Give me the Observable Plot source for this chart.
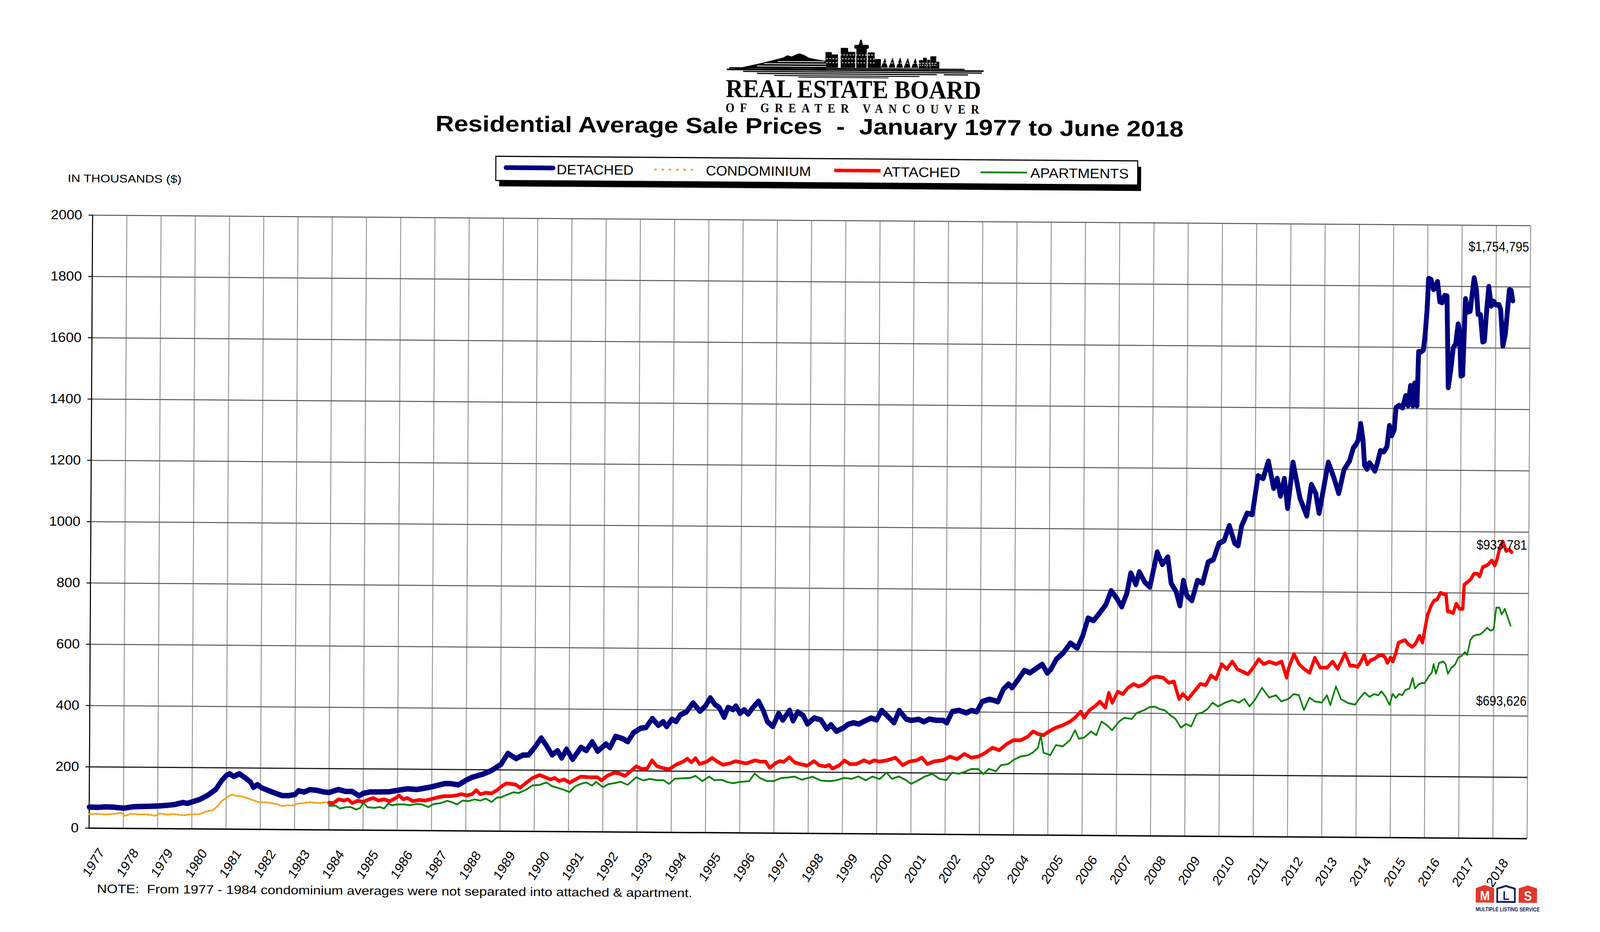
<!DOCTYPE html>
<html>
<head>
<meta charset="utf-8">
<script src="https://cdn.jsdelivr.net/npm/d3@7"></script>
<script src="https://cdn.jsdelivr.net/npm/@observablehq/plot@0.6"></script>
<style>
  html, body { margin: 0; padding: 0; background: #ffffff; overflow: hidden; }
  #viewport { position: relative; overflow: hidden; width: 4624px; height: 2387px; }
  #scaler { position: absolute; left: 0; top: 0; width: 4624px; height: 2387px; transform-origin: 0 0; }
  #wrap { position: relative; width: 4624px; height: 2387px; transform: rotate(0.37deg); transform-origin: 2340px 1349px; }
  #chart, #overlay { position: absolute; left: 0; top: 0; }
  #chart svg { max-width: none !important; }
  #overlay { pointer-events: none; }
  #overlay text { white-space: pre; }
</style>
</head>
<body>
<div id="viewport">
<div id="scaler">
<div id="wrap">
  <div id="chart"></div>
  <svg id="overlay" width="4624" height="2387" viewBox="0 0 4624 2387" xmlns="http://www.w3.org/2000/svg" font-family="'Liberation Sans', Arial, sans-serif">
    <!-- skyline logo -->
    <g fill="#000">
      <path d="M2093,181 L2140,173 L2185,164 L2230,154 L2255,148 L2268,142 L2280,145 L2292,140 L2303,137 L2316,141 L2330,148 L2352,152 L2380,156 L2380,181 Z"/>
      <rect x="2378" y="133" width="18" height="40"/>
      <rect x="2396" y="139" width="18" height="34"/>
      <rect x="2422" y="122" width="21" height="51"/>
      <rect x="2443" y="132" width="21" height="41"/>
      <rect x="2467" y="124" width="30" height="49"/>
      <rect x="2461" y="114" width="42" height="10" rx="4"/>
      <path d="M2474,114 L2478,101 L2482,101 L2486,114 Z"/>
      <rect x="2500" y="133" width="20" height="40"/>
      <rect x="2520" y="150" width="18" height="23"/>
      <path d="M2538,172 L2550,147 L2558,172 Z M2560,172 L2572,146 L2580,172 Z M2582,172 L2594,145 L2602,172 Z M2604,172 L2616,146 L2624,172 Z M2626,172 L2638,147 L2646,172 Z"/>
      <rect x="2648" y="152" width="12" height="21"/>
      <rect x="2660" y="146" width="11" height="27"/>
      <rect x="2672" y="151" width="8" height="22"/>
      <rect x="2681" y="142" width="17" height="31"/>
      <rect x="2698" y="156" width="9" height="17"/>
    </g>
    <g stroke="#fff" stroke-width="2">
      <line x1="2150" y1="176" x2="2380" y2="176"/>
      <line x1="2180" y1="170" x2="2380" y2="170"/>
      <line x1="2200" y1="164" x2="2380" y2="164"/>
      <line x1="2240" y1="158" x2="2375" y2="158"/>
      <line x1="2380" y1="150" x2="2520" y2="150" stroke-dasharray="5 4"/>
      <line x1="2380" y1="160" x2="2520" y2="160" stroke-dasharray="5 4"/>
      <line x1="2420" y1="140" x2="2520" y2="140" stroke-dasharray="5 4"/>
      <line x1="2540" y1="160" x2="2700" y2="160" stroke-dasharray="6 3"/>
      <line x1="2650" y1="165" x2="2700" y2="165" stroke-dasharray="4 3"/>
    </g>
    <g stroke="#000">
      <line x1="2093" y1="179" x2="2835" y2="179" stroke-width="4"/>
      <line x1="2100" y1="175" x2="2780" y2="175" stroke-width="3"/>
      <line x1="2140" y1="184" x2="2830" y2="184" stroke-width="3"/>
      <line x1="2180" y1="189" x2="2700" y2="189" stroke-width="3"/>
      <line x1="2720" y1="189" x2="2790" y2="189" stroke-width="3"/>
      <line x1="2230" y1="194" x2="2650" y2="194" stroke-width="2.5"/>
      <line x1="2300" y1="198" x2="2560" y2="198" stroke-width="2"/>
    </g>
    <text x="2090" y="250" font-family="'Liberation Serif', 'Times New Roman', serif" font-weight="bold" font-size="66" textLength="738" lengthAdjust="spacingAndGlyphs">REAL ESTATE BOARD</text>
    <text x="2090" y="288" font-family="'Liberation Serif', 'Times New Roman', serif" font-weight="bold" font-size="33" textLength="733" lengthAdjust="spacing">OF GREATER VANCOUVER</text>

    <!-- title -->
    <text x="1252" y="343" font-size="57" font-weight="bold" textLength="2162" lengthAdjust="spacingAndGlyphs">Residential Average Sale Prices  -  January 1977 to June 2018</text>

    <!-- legend -->
    <rect x="1437" y="421" width="1855" height="62" fill="#000"/>
    <rect x="1427" y="406" width="1855" height="62" fill="#fff" stroke="#000" stroke-width="3"/>
    <line x1="1456" y1="435" x2="1593" y2="435" stroke="#000080" stroke-width="12" stroke-linecap="round"/>
    <text x="1603" y="451" font-size="35" textLength="222" lengthAdjust="spacingAndGlyphs">DETACHED</text>
    <line x1="1885" y1="437" x2="2004" y2="437" stroke="#f4a21e" stroke-width="4.5" stroke-dasharray="7 14"/>
    <text x="2034" y="451" font-size="35" textLength="304" lengthAdjust="spacingAndGlyphs">CONDOMINIUM</text>
    <line x1="2405" y1="436" x2="2539" y2="436" stroke="#ff0000" stroke-width="9"/>
    <text x="2546" y="451" font-size="35" textLength="223" lengthAdjust="spacingAndGlyphs">ATTACHED</text>
    <line x1="2828" y1="438" x2="2962" y2="438" stroke="#008000" stroke-width="4.5"/>
    <text x="2972" y="451" font-size="35" textLength="284" lengthAdjust="spacingAndGlyphs">APARTMENTS</text>

    <!-- y axis unit -->
    <text x="190" y="480" font-size="28" textLength="329" lengthAdjust="spacingAndGlyphs">IN THOUSANDS ($)</text>

    <!-- note -->
    <text x="286" y="2300" font-size="31" textLength="1721" lengthAdjust="spacingAndGlyphs">NOTE:  From 1977 - 1984 condominium averages were not separated into attached &amp; apartment.</text>

    <!-- MLS logo -->
    <g>
      <path d="M4271,2299 L4271,2262 L4297,2254 L4324,2262 L4324,2299 Z" fill="#e2392d"/>
      <path d="M4333,2297 L4333,2263 L4358,2256 L4384,2263 L4384,2297 Z" fill="#fff" stroke="#1b2159" stroke-width="5"/>
      <path d="M4395,2299 L4395,2262 L4421,2254 L4448,2262 L4448,2299 Z" fill="#e2392d"/>
      <text x="4297.5" y="2293" font-size="34" font-weight="bold" fill="#fff" text-anchor="middle">M</text>
      <text x="4358.5" y="2292" font-size="32" font-weight="bold" fill="#1b2159" text-anchor="middle">L</text>
      <text x="4421.5" y="2293" font-size="34" font-weight="bold" fill="#fff" text-anchor="middle">S</text>
      <text x="4271" y="2321" font-size="15" font-weight="bold" fill="#1b2159" textLength="185" lengthAdjust="spacingAndGlyphs">MULTIPLE LISTING SERVICE</text>
    </g>
  </svg>
</div>
</div>
</div>
<script>
// map the 4624x2387 design onto the whole CSS viewport that gets photographed
(function () {
  const W = window.innerWidth || 4624, H = window.innerHeight || 2387;
  const sx = W / 4624, sy = H / 2387;
  const vp = document.getElementById("viewport");
  vp.style.width = W + "px";
  vp.style.height = H + "px";
  document.getElementById("scaler").style.transform = "scale(" + sx + "," + sy + ")";
})();

// ---- data: [decimal year, average price in thousands] ----
const detached = [
[1977.00,69],[1977.24,68],[1977.48,70],[1977.72,69],[1978.01,66],[1978.29,71],[1978.53,72],[1978.77,73],[1979.01,74],[1979.25,76],[1979.49,79],[1979.74,86],[1979.86,83],[1980.00,88],[1980.22,96],[1980.46,110],[1980.70,130],[1980.86,158],[1981.01,176],[1981.09,181],[1981.22,172],[1981.38,181],[1981.55,168],[1981.71,154],[1981.79,137],[1981.91,146],[1982.03,136],[1982.23,127],[1982.47,117],[1982.63,111],[1982.83,111],[1983.01,115],[1983.11,127],[1983.28,123],[1983.44,131],[1983.64,129],[1983.84,124],[1984.00,122],[1984.28,132],[1984.48,126],[1984.68,126],[1984.88,112],[1985.00,120],[1985.21,125],[1985.45,125],[1985.77,126],[1986.01,131],[1986.29,136],[1986.57,134],[1986.81,139],[1987.00,143],[1987.38,154],[1987.54,154],[1987.78,150],[1988.01,166],[1988.18,175],[1988.50,186],[1988.75,198],[1988.91,210],[1989.02,218],[1989.22,254],[1989.46,237],[1989.66,249],[1989.82,249],
[1990.00,274],[1990.19,305],[1990.35,279],[1990.51,250],[1990.67,264],[1990.79,240],[1990.93,269],[1991.11,236],[1991.35,275],[1991.51,265],[1991.68,294],[1991.84,263],[1992.08,287],[1992.20,275],[1992.36,312],[1992.56,305],[1992.72,295],[1992.88,324],[1993.09,339],[1993.25,342],[1993.43,371],[1993.61,349],[1993.75,361],[1993.85,345],[1994.00,369],[1994.13,362],[1994.25,384],[1994.42,393],[1994.62,423],[1994.82,396],[1994.98,413],[1995.12,440],[1995.26,418],[1995.38,409],[1995.53,377],[1995.64,409],[1995.79,402],[1995.87,414],[1995.99,390],[1996.11,402],[1996.23,388],[1996.35,407],[1996.53,430],[1996.67,400],[1996.79,364],[1996.95,348],[1997.12,391],[1997.24,369],[1997.44,401],[1997.54,367],[1997.68,396],[1997.84,384],[1997.96,357],[1998.16,377],[1998.36,370],[1998.53,341],[1998.65,355],[1998.81,334],[1999.01,345],
[1999.15,357],[1999.31,362],[1999.46,358],[1999.67,370],[1999.82,378],[1999.98,372],[2000.13,403],[2000.28,387],[2000.49,363],[2000.64,403],[2000.85,375],[2001.00,371],[2001.21,375],[2001.36,367],[2001.52,376],[2001.72,372],[2001.93,372],[2002.03,364],[2002.19,401],[2002.39,405],[2002.60,397],[2002.75,405],[2002.91,401],[2003.06,434],[2003.27,442],[2003.42,438],[2003.52,434],[2003.68,475],[2003.83,492],[2003.93,480],[2004.09,504],[2004.29,537],[2004.45,529],[2004.60,541],[2004.81,557],[2004.96,529],[2005.06,541],[2005.22,574],[2005.42,595],[2005.63,627],[2005.83,611],[2005.99,652],[2006.14,709],[2006.30,701],[2006.45,722],[2006.66,754],[2006.81,799],[2006.97,775],[2007.12,747],[2007.27,791],[2007.38,857],[2007.53,820],[2007.63,861],[2007.79,828],[2007.94,812],[2008.15,926],[2008.30,886],[2008.46,910],[2008.56,825],[2008.71,797],[2008.82,752],[2008.92,834],[2009.02,785],[2009.17,769],[2009.33,834],[2009.48,826],[2009.64,895],[2009.79,903],[2009.95,956],[2010.10,965],[2010.25,1014],[2010.41,957],[2010.51,949],[2010.61,1014],[2010.77,1055],[2010.92,1051],[2011.08,1177],[2011.23,1169],[2011.38,1225],[2011.54,1137],[2011.64,1169],[2011.74,1112],[2011.85,1169],[2011.95,1072],[2012.10,1222],[2012.31,1105],[2012.51,1048],[2012.64,1150],[2012.77,1121],[2012.87,1057],[2013.13,1223],[2013.29,1175],[2013.44,1122],[2013.59,1199],[2013.75,1228],[2013.86,1271],[2013.95,1284],[2014.00,1297],[2014.07,1350],[2014.14,1297],[2014.19,1215],[2014.26,1202],[2014.33,1222],[2014.42,1209],[2014.49,1196],[2014.56,1220],[2014.65,1262],[2014.75,1259],[2014.84,1275],[2014.91,1344],[2014.98,1312],[2015.05,1331],[2015.10,1403],[2015.19,1410],[2015.29,1403],[2015.38,1442],[2015.45,1410],[2015.52,1475],[2015.59,1410],[2015.64,1483],[2015.71,1410],[2015.75,1586],[2015.82,1586],[2015.89,1592],[2015.94,1645],[2015.99,1723],[2016.03,1825],[2016.10,1822],[2016.17,1790],[2016.22,1793],[2016.29,1815],[2016.36,1750],[2016.43,1747],[2016.50,1770],[2016.57,1768],[2016.62,1470],[2016.69,1527],[2016.76,1599],[2016.83,1612],[2016.90,1677],[2016.94,1658],[2016.99,1508],[2017.04,1511],[2017.11,1760],[2017.18,1717],[2017.25,1720],[2017.29,1760],[2017.36,1828],[2017.43,1788],[2017.48,1710],[2017.55,1708],[2017.62,1620],[2017.67,1623],[2017.74,1737],[2017.79,1800],[2017.86,1737],[2017.93,1752],[2018.00,1741],[2018.09,1741],[2018.14,1725],[2018.21,1607],[2018.28,1646],[2018.35,1738],[2018.39,1790],[2018.44,1788],[2018.49,1755]
];
const condominium = [
[1977.00,46],[1977.24,47],[1977.48,45],[1977.72,47],[1977.93,51],[1978.05,41],[1978.21,48],[1978.45,46],[1978.69,46],[1978.93,42],[1979.05,50],[1979.25,46],[1979.49,48],[1979.74,44],[1979.98,48],[1980.22,48],[1980.38,56],[1980.62,62],[1980.74,74],[1980.86,91],[1980.98,100],[1981.10,110],[1981.18,113],[1981.30,109],[1981.47,107],[1981.63,101],[1981.79,95],[1981.95,89],[1982.11,89],[1982.27,87],[1982.47,83],[1982.63,77],[1982.79,79],[1982.95,79],[1983.11,85],[1983.28,87],[1983.44,90],[1983.60,88],[1983.76,88],[1983.92,90]
];
const attached = [
[1984.00,89],[1984.12,87],[1984.28,100],[1984.44,96],[1984.56,100],[1984.68,88],[1984.84,96],[1985.00,92],[1985.13,99],[1985.29,105],[1985.45,97],[1985.61,101],[1985.77,95],[1985.93,104],[1986.05,114],[1986.17,102],[1986.29,106],[1986.45,96],[1986.65,100],[1986.81,98],[1987.02,104],[1987.18,109],[1987.38,113],[1987.54,113],[1987.74,116],[1987.86,120],[1988.02,116],[1988.18,120],[1988.30,133],[1988.42,120],[1988.58,125],[1988.75,123],[1988.91,134],[1989.02,145],[1989.18,156],[1989.34,154],[1989.46,152],[1989.58,142],[1989.74,157],[1989.94,174],[1990.15,184],[1990.31,177],[1990.47,170],[1990.59,175],[1990.71,165],[1990.87,170],[1991.03,160],[1991.19,170],[1991.35,180],[1991.60,178],[1991.84,178],[1991.96,168],[1992.12,183],[1992.32,193],[1992.48,191],[1992.64,183],[1992.80,198],[1992.97,215],[1993.13,206],[1993.29,208],[1993.43,235],[1993.57,216],[1993.77,209],[1993.93,206],[1994.13,221],[1994.34,231],[1994.46,241],[1994.58,229],[1994.70,243],[1994.82,224],[1995.02,231],[1995.18,244],[1995.34,232],[1995.50,222],[1995.71,227],[1995.87,234],[1996.03,230],[1996.19,227],[1996.43,237],[1996.59,233],[1996.75,233],[1996.87,213],[1997.03,228],[1997.16,235],[1997.28,233],[1997.44,248],[1997.60,231],[1997.76,226],[1997.96,221],[1998.16,236],[1998.32,222],[1998.49,219],[1998.61,224],[1998.69,212],[1998.89,222],[1999.05,239],[1999.21,227],[1999.41,228],[1999.62,240],[1999.77,232],[1999.92,240],[2000.08,236],[2000.28,240],[2000.54,249],[2000.75,225],[2000.95,237],[2001.16,241],[2001.31,250],[2001.47,229],[2001.67,238],[2001.93,242],[2002.13,254],[2002.34,246],[2002.55,263],[2002.75,251],[2002.96,255],[2003.16,267],[2003.37,284],[2003.57,276],[2003.78,296],[2003.98,309],[2004.19,309],[2004.40,321],[2004.55,338],[2004.70,330],[2004.86,326],[2005.01,338],[2005.22,351],[2005.42,359],[2005.63,371],[2005.78,384],[2005.94,404],[2006.04,384],[2006.19,408],[2006.35,421],[2006.50,437],[2006.66,417],[2006.76,466],[2006.86,433],[2007.02,470],[2007.17,462],[2007.32,483],[2007.48,495],[2007.63,487],[2007.79,495],[2007.99,516],[2008.15,520],[2008.35,516],[2008.51,500],[2008.66,504],[2008.81,447],[2008.92,464],[2009.07,447],[2009.28,476],[2009.43,497],[2009.59,493],[2009.74,525],[2009.89,513],[2010.05,562],[2010.20,546],[2010.36,571],[2010.51,546],[2010.66,538],[2010.82,530],[2010.97,551],[2011.13,579],[2011.28,563],[2011.44,571],[2011.64,564],[2011.80,572],[2011.95,519],[2012.00,548],[2012.16,597],[2012.31,564],[2012.46,548],[2012.62,536],[2012.77,585],[2012.93,553],[2013.13,553],[2013.29,573],[2013.44,549],[2013.65,600],[2013.80,560],[2013.91,560],[2014.02,556],[2014.12,574],[2014.21,596],[2014.30,565],[2014.40,578],[2014.51,583],[2014.61,592],[2014.75,596],[2014.82,588],[2014.89,570],[2014.98,588],[2015.05,575],[2015.12,597],[2015.21,636],[2015.31,641],[2015.40,645],[2015.49,632],[2015.61,623],[2015.70,632],[2015.82,659],[2015.91,637],[2015.98,681],[2016.05,725],[2016.15,756],[2016.24,774],[2016.33,778],[2016.43,800],[2016.52,796],[2016.59,796],[2016.64,739],[2016.71,739],[2016.80,734],[2016.89,765],[2016.99,748],[2017.08,748],[2017.12,827],[2017.22,836],[2017.31,845],[2017.40,863],[2017.50,863],[2017.57,854],[2017.66,885],[2017.75,889],[2017.82,894],[2017.92,907],[2018.01,890],[2018.08,912],[2018.15,947],[2018.24,969],[2018.34,938],[2018.43,943],[2018.50,934]
];
const apartments = [
[1984.00,79],[1984.20,79],[1984.32,70],[1984.52,75],[1984.64,75],[1984.80,67],[1984.92,73],[1985.00,90],[1985.13,75],[1985.33,73],[1985.49,76],[1985.61,71],[1985.73,87],[1985.85,82],[1986.01,85],[1986.17,85],[1986.37,83],[1986.57,87],[1986.73,85],[1986.90,77],[1987.06,87],[1987.26,90],[1987.46,98],[1987.62,92],[1987.74,86],[1987.90,99],[1988.06,97],[1988.26,103],[1988.42,99],[1988.58,106],[1988.75,95],[1988.91,110],[1989.02,110],[1989.18,118],[1989.38,127],[1989.54,125],[1989.74,135],[1989.94,150],[1990.15,152],[1990.35,160],[1990.51,148],[1990.67,143],[1990.87,136],[1991.02,129],[1991.19,148],[1991.35,156],[1991.51,161],[1991.68,151],[1991.80,163],[1992.00,146],[1992.16,156],[1992.32,159],[1992.52,164],[1992.72,154],[1992.97,179],[1993.17,169],[1993.37,174],[1993.57,170],[1993.77,170],[1993.93,158],[1994.09,175],[1994.34,177],[1994.54,178],[1994.70,185],[1994.90,168],[1995.10,183],[1995.26,171],[1995.46,173],[1995.62,166],[1995.79,162],[1996.03,167],[1996.27,169],[1996.43,194],[1996.59,179],[1996.79,170],[1996.99,170],[1997.20,180],[1997.40,182],[1997.60,185],[1997.80,175],[1997.96,180],[1998.12,185],[1998.36,173],[1998.61,171],[1998.81,174],[1999.05,182],[1999.26,179],[1999.46,187],[1999.67,175],[1999.87,187],[2000.08,179],[2000.28,200],[2000.44,180],[2000.64,188],[2000.85,176],[2001.00,164],[2001.21,176],[2001.41,189],[2001.62,197],[2001.83,181],[2002.03,177],[2002.19,202],[2002.39,198],[2002.60,206],[2002.75,214],[2002.96,214],[2003.11,198],[2003.27,215],[2003.47,207],[2003.62,227],[2003.83,231],[2003.98,244],[2004.19,256],[2004.40,260],[2004.55,269],[2004.70,285],[2004.78,326],[2004.86,269],[2005.06,261],[2005.22,294],[2005.42,290],[2005.63,310],[2005.78,343],[2005.89,315],[2006.04,319],[2006.25,339],[2006.40,327],[2006.55,372],[2006.71,360],[2006.86,344],[2007.07,373],[2007.22,385],[2007.43,381],[2007.58,401],[2007.79,410],[2007.94,420],[2008.10,422],[2008.25,414],[2008.40,410],[2008.56,394],[2008.71,382],[2008.87,354],[2009.02,366],[2009.17,358],[2009.33,399],[2009.48,403],[2009.64,415],[2009.79,436],[2009.95,424],[2010.15,436],[2010.36,445],[2010.56,437],[2010.72,449],[2010.87,425],[2011.02,445],[2011.23,486],[2011.44,454],[2011.64,462],[2011.80,442],[2012.00,450],[2012.16,466],[2012.31,463],[2012.46,414],[2012.62,455],[2012.77,443],[2012.98,439],[2013.13,463],[2013.23,431],[2013.39,492],[2013.54,451],[2013.75,438],[2013.95,433],[2014.09,455],[2014.23,473],[2014.37,459],[2014.51,468],[2014.63,464],[2014.72,477],[2014.84,460],[2014.96,433],[2015.05,469],[2015.14,456],[2015.24,469],[2015.33,465],[2015.42,482],[2015.54,487],[2015.63,522],[2015.70,487],[2015.80,500],[2015.89,505],[2015.98,505],[2016.10,527],[2016.19,540],[2016.24,567],[2016.31,536],[2016.40,571],[2016.52,576],[2016.59,567],[2016.66,536],[2016.75,554],[2016.87,567],[2016.96,589],[2017.05,594],[2017.15,607],[2017.22,598],[2017.31,647],[2017.40,660],[2017.50,664],[2017.59,665],[2017.68,673],[2017.80,687],[2017.89,678],[2017.99,682],[2018.06,753],[2018.15,753],[2018.22,731],[2018.31,749],[2018.38,727],[2018.48,694]
];

// tick labels
const yearLabels = [1977,1978,1979,1980,1981,1982,1983,1984,1985,1986,1987,1988,1989,1990,1991,1992,1993,1994,1995,1996,1997,1998,1999,2000,2001,2002,2003,2004,2005,2006,2007,2008,2009,2010,2011,2012,2013,2014,2015,2016,2017,2018];
const gridYears = [...yearLabels, 2019];
const yTicks = [0,200,400,600,800,1000,1200,1400,1600,1800,2000];

// end-of-series value labels
const endLabels = [
  {x: 2018.96, y: 1930, text: "$1,754,795"},
  {x: 2018.95, y: 957, text: "$933,781"},
  {x: 2018.96, y: 448, text: "$693,626"}
];

const rows = arr => arr.map(([t, v]) => ({t, v}));

const chart = Plot.plot({
  width: 4624,
  height: 2387,
  marginLeft: 262,
  marginRight: 206,
  marginTop: 564,
  marginBottom: 253,
  x: {domain: [1977, 2019], axis: null},
  y: {domain: [0, 2000]},
  style: {fontFamily: "'Liberation Sans', Arial, sans-serif", background: "transparent", color: "#000"},
  marks: [
    Plot.ruleX(gridYears, {stroke: "#8c8c8c", strokeWidth: 2.5}),
    Plot.ruleY(yTicks.filter(d => d > 200), {stroke: "#555", strokeWidth: 2.5}),
    Plot.ruleY([200], {stroke: "#1a1a1a", strokeWidth: 3}),
    Plot.ruleY([0], {stroke: "#000", strokeWidth: 3.5}),
    Plot.ruleX([1977], {stroke: "#000", strokeWidth: 3}),
    Plot.axisY({ticks: yTicks, tickSize: 11, tickPadding: 19, fontSize: 34, label: null, tickFormat: d => String(d), strokeWidth: 2.5}),
    Plot.text(yearLabels, {x: d => d, text: d => String(d), frameAnchor: "bottom", dx: 46, dy: 62, rotate: -55, textAnchor: "end", lineAnchor: "bottom", fontSize: 36, fill: "#000"}),
    Plot.line(rows(detached), {x: "t", y: "v", stroke: "#000080", strokeWidth: 14, strokeLinejoin: "round", strokeLinecap: "round"}),
    Plot.line(rows(condominium), {x: "t", y: "v", stroke: "#f4a21e", strokeWidth: 4.5, strokeDasharray: "6 4"}),
    Plot.line(rows(attached), {x: "t", y: "v", stroke: "#ff0000", strokeWidth: 9.5, strokeLinejoin: "round", strokeLinecap: "round"}),
    Plot.line(rows(apartments), {x: "t", y: "v", stroke: "#008000", strokeWidth: 4.5, strokeLinejoin: "round", strokeLinecap: "round"}),
    Plot.text(endLabels, {x: "x", y: "y", text: "text", textAnchor: "end", lineAnchor: "middle", fontSize: 35, fill: "#000"})
  ]
});

document.getElementById("chart").appendChild(chart);

// widen the y tick labels like the original's stretched lettering
d3.select(chart).selectAll('g[aria-label="y-axis tick label"] text').each(function () {
  const w = this.getComputedTextLength();
  this.setAttribute("textLength", (w * 1.2).toFixed(1));
  this.setAttribute("lengthAdjust", "spacingAndGlyphs");
});
</script>
</body>
</html>
